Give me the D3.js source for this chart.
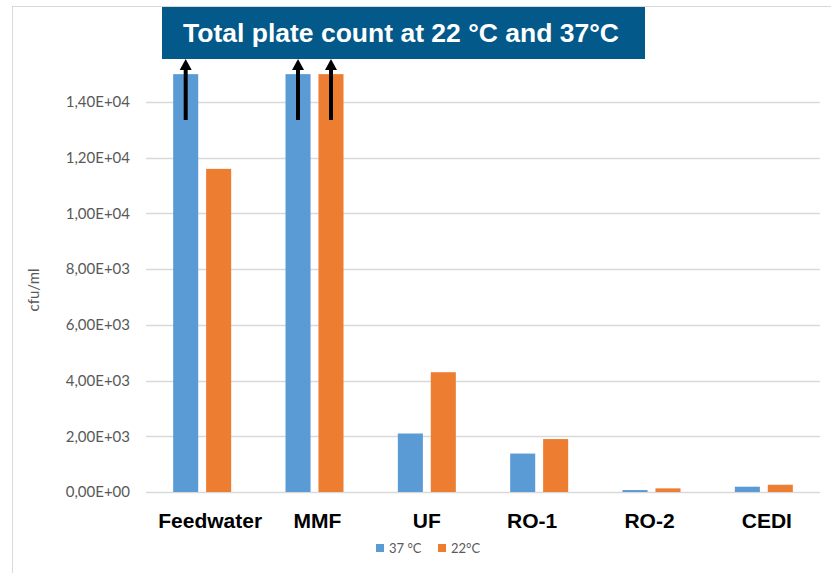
<!DOCTYPE html>
<html>
<head>
<meta charset="utf-8">
<script src="https://cdn.jsdelivr.net/npm/d3@7"></script>
<style>
  body { margin: 0; background: #fff; }
  svg { display: block; }
</style>
</head>
<body>
<svg id="chart"></svg>
<script>
// --- Data ---
const categories = ["Feedwater", "MMF", "UF", "RO-1", "RO-2", "CEDI"];
const seriesNames = ["37 °C", "22°C"];
const values37 = [15000, 15000, 2100, 1380, 70, 190];
const values22 = [11600, 15000, 4300, 1900, 130, 260];
const yTicks = [0, 2000, 4000, 6000, 8000, 10000, 12000, 14000];
const yTickLabels = ["0,00E+00", "2,00E+03", "4,00E+03", "6,00E+03", "8,00E+03", "1,00E+04", "1,20E+04", "1,40E+04"];
// bars that run off the scale get an arrow
const arrows = [["Feedwater", "37 °C"], ["MMF", "37 °C"], ["MMF", "22°C"]];

const width = 831, height = 573;
const colors = { "37 °C": "#5b9bd5", "22°C": "#ed7d31" };
// category labels were placed by hand in the original, slightly off-centre
const labelShift = { "Feedwater": 8, "MMF": 3, "UF": 0, "RO-1": -7, "RO-2": -2, "CEDI": 3 };

const svg = d3.select("#chart").attr("width", width).attr("height", height);

// Outer frame
svg.append("rect")
  .attr("x", 12.5).attr("y", 6.5)
  .attr("width", 840).attr("height", 600)
  .attr("fill", "none").attr("stroke", "#d9d9d9");

// --- Scales ---
const x0 = d3.scaleBand().domain(categories).range([146, 820]);
const x1 = d3.scaleBand().domain(seriesNames).range([x0.bandwidth() / 2 - 29, x0.bandwidth() / 2 + 29]).paddingInner(0.24);
const y = d3.scaleLinear().domain([0, 14000]).range([492, 102]);

// Gridlines
svg.append("g")
  .selectAll("line")
  .data(yTicks)
  .join("line")
  .attr("x1", 146).attr("x2", 820)
  .attr("y1", d => Math.round(y(d)) + 0.5)
  .attr("y2", d => Math.round(y(d)) + 0.5)
  .attr("stroke", "#d9d9d9")
  .attr("stroke-width", 1.3);

// Y axis labels
const yAxis = svg.append("g")
  .attr("transform", "translate(146,0)")
  .call(d3.axisLeft(y).tickValues(yTicks).tickSize(0).tickPadding(16)
    .tickFormat((d, i) => yTickLabels[i]));
yAxis.select(".domain").remove();
yAxis.selectAll("text")
  .attr("font-family", "Lato, 'Open Sans', sans-serif")
  .attr("font-size", 15)
  .attr("fill", "#595959");

// Y axis title
svg.append("text")
  .attr("transform", "translate(39,290) rotate(-90)")
  .attr("text-anchor", "middle")
  .attr("font-family", "Lato, 'Open Sans', sans-serif")
  .attr("font-size", 15)
  .attr("fill", "#595959")
  .text("cfu/ml");

// --- Bars ---
const rows = categories.map((c, i) => ({ cat: c, vals: [
  { name: "37 °C", v: values37[i] },
  { name: "22°C", v: values22[i] }
]}));

svg.append("g")
  .selectAll("g")
  .data(rows)
  .join("g")
  .attr("transform", d => `translate(${x0(d.cat)},0)`)
  .selectAll("rect")
  .data(d => d.vals)
  .join("rect")
  .attr("x", d => x1(d.name))
  .attr("width", x1.bandwidth())
  .attr("y", d => y(d.v))
  .attr("height", d => y(0) - y(d.v))
  .attr("fill", d => colors[d.name]);

// Category labels
svg.append("g")
  .selectAll("text")
  .data(categories)
  .join("text")
  .attr("x", d => x0(d) + x0.bandwidth() / 2 + labelShift[d])
  .attr("y", 528)
  .attr("text-anchor", "middle")
  .attr("font-family", "'Liberation Sans', Arial, sans-serif")
  .attr("font-weight", "bold")
  .attr("font-size", 21)
  .attr("fill", "#000")
  .text(d => d);

// --- Legend ---
const legend = svg.append("g").attr("transform", "translate(376,549)");
const legendX = [0, 62];
seriesNames.forEach((s, i) => {
  const g = legend.append("g").attr("transform", `translate(${legendX[i]},0)`);
  g.append("rect").attr("x", 0).attr("y", -5).attr("width", 8).attr("height", 8).attr("fill", colors[s]);
  g.append("text").attr("x", 13).attr("y", 4)
    .attr("font-family", "Lato, 'Open Sans', sans-serif")
    .attr("font-size", 13)
    .attr("fill", "#595959")
    .text(s);
});

// --- Title box ---
svg.append("rect")
  .attr("x", 162).attr("y", 7)
  .attr("width", 483).attr("height", 52)
  .attr("fill", "#02598a");
svg.append("text")
  .attr("x", 401).attr("y", 42)
  .attr("text-anchor", "middle")
  .attr("font-family", "'Liberation Sans', Arial, sans-serif")
  .attr("font-weight", "bold")
  .attr("font-size", 26.5)
  .attr("fill", "#fff")
  .text("Total plate count at 22 °C and 37°C");

// --- Arrows ---
const arrowG = svg.append("g");
arrows.forEach(([c, s]) => {
  const ax = x0(c) + x1(s) + x1.bandwidth() / 2;
  arrowG.append("line")
    .attr("x1", ax).attr("x2", ax)
    .attr("y1", 120).attr("y2", 68)
    .attr("stroke", "#000").attr("stroke-width", 4);
  arrowG.append("path")
    .attr("d", `M${ax - 6},70 L${ax},59 L${ax + 6},70 Z`)
    .attr("fill", "#000");
});
</script>
</body>
</html>
